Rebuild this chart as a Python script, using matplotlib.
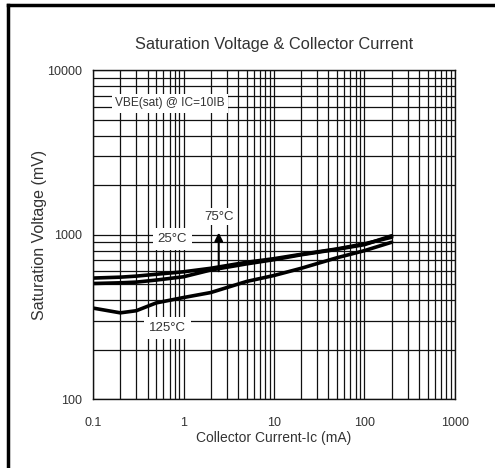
import numpy as np
import matplotlib
matplotlib.use("Agg")
import matplotlib.pyplot as plt
from matplotlib.lines import Line2D
from matplotlib.ticker import FixedLocator, FixedFormatter, NullFormatter

plt.rcParams['font.family'] = ['Liberation Sans', 'DejaVu Sans']

# collector current (mA) and VBE(sat) (mV)
ic = [0.1, 0.2, 0.3, 0.5, 1, 2, 5, 10, 20, 50, 100, 200]
vbe_25 = [545, 552, 560, 575, 595, 625, 680, 715, 760, 820, 880, 965]
vbe_75 = [505, 510, 515, 530, 555, 610, 665, 705, 755, 815, 870, 985]
vbe_125 = [358, 335, 345, 385, 415, 445, 520, 565, 625, 725, 800, 900]

x_ticks = [0.1, 1, 10, 100, 1000]
x_tick_labels = ['0.1', '1', '10', '100', '1000']
y_ticks = [100, 1000, 10000]
y_tick_labels = ['100', '1000', '10000']

fig = plt.figure(figsize=(4.95, 4.68), dpi=100)
ax = fig.add_axes([0.188, 0.147, 0.731, 0.703])

ax.set_xscale('log')
ax.set_yscale('log')
ax.set_xlim(0.1, 1000)
ax.set_ylim(100, 10000)

# grid (major + minor) in black
ax.grid(True, which='both', color='#111111', linewidth=0.9)
ax.set_axisbelow(True)

for v in (vbe_25, vbe_75, vbe_125):
    ax.plot(ic, v, color='black', linewidth=2.6, solid_capstyle='round')

ax.xaxis.set_major_locator(FixedLocator(x_ticks))
ax.xaxis.set_major_formatter(FixedFormatter(x_tick_labels))
ax.yaxis.set_major_locator(FixedLocator(y_ticks))
ax.yaxis.set_major_formatter(FixedFormatter(y_tick_labels))
ax.xaxis.set_minor_formatter(NullFormatter())
ax.yaxis.set_minor_formatter(NullFormatter())
ax.tick_params(which='both', length=0, labelsize=9, colors='#333333')
ax.tick_params(axis='y', pad=8)
ax.tick_params(axis='x', pad=13)

for s in ax.spines.values():
    s.set_color('#111111')
    s.set_linewidth(1.0)

ax.set_title('Saturation Voltage & Collector Current', fontsize=11.8, color='#333333', pad=15)
ax.set_xlabel('Collector Current-Ic (mA)', fontsize=10, color='#333333', labelpad=1)
ax.set_ylabel('Saturation Voltage (mV)', fontsize=11.5, color='#333333', labelpad=0)

ax.text(0.71, 6300, 'VBE(sat) @ IC=10IB', fontsize=8.6, color='#333333',
        ha='center', va='center', bbox=dict(facecolor='white', edgecolor='none', pad=2.5))
ax.text(0.75, 940, '25°C', fontsize=9.5, color='#333333', ha='center', va='center',
        bbox=dict(facecolor='white', edgecolor='none', pad=3.5))
ax.text(2.5, 1290, '75°C', fontsize=9.5, color='#333333', ha='center', va='center',
        bbox=dict(facecolor='white', edgecolor='none', pad=1.5))
ax.text(0.67, 272, '125°C', fontsize=9.5, color='#333333', ha='center', va='center',
        bbox=dict(facecolor='white', edgecolor='none', pad=3.5))
ax.annotate('', xy=(2.45, 1030), xytext=(2.45, 600),
            arrowprops=dict(arrowstyle='-|>', color='black', lw=1.5,
                            mutation_scale=12, shrinkA=0, shrinkB=0))

# thick frame on the left and top of the image
fig.add_artist(Line2D([8 / 495, 8 / 495], [0, 1 - 5 / 468], color='black', linewidth=2.5))
fig.add_artist(Line2D([8 / 495, 1], [1 - 5 / 468, 1 - 5 / 468], color='black', linewidth=2.5))

fig.savefig('out.png', dpi=100)
